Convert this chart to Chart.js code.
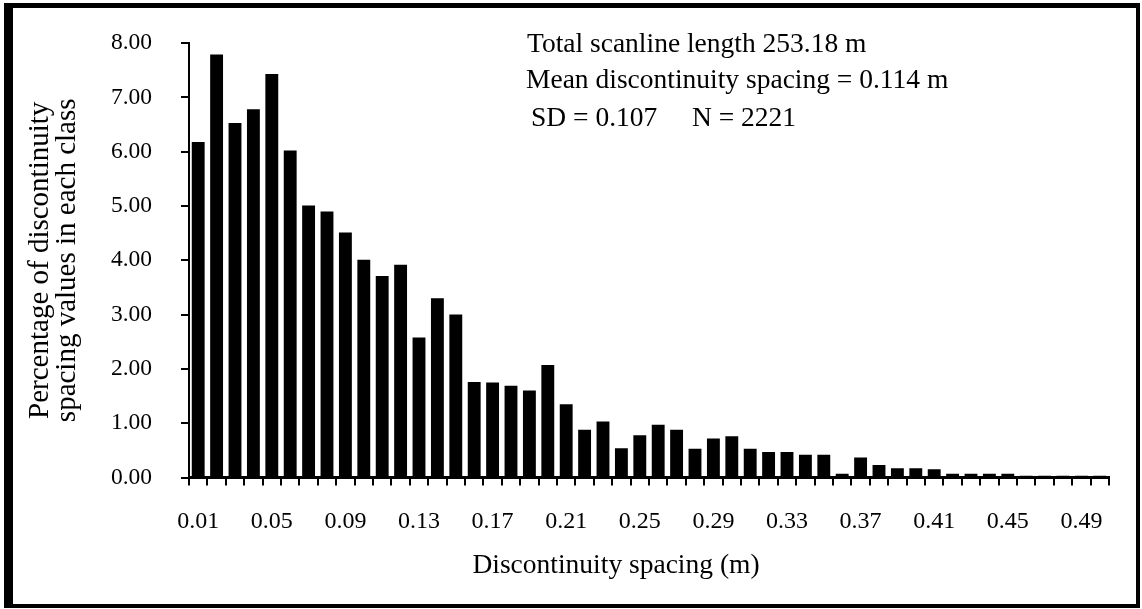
<!DOCTYPE html>
<html>
<head>
<meta charset="utf-8">
<script src="https://cdn.jsdelivr.net/npm/chart.js@4.4.1/dist/chart.umd.min.js"></script>
<style>
html, body { margin: 0; padding: 0; background: #fff; }
#wrap { position: relative; width: 1142px; height: 609px; }
#frame { position: absolute; left: 4px; top: 3px; width: 1136px; height: 605px; box-sizing: border-box;
  border-style: solid; border-color: #000; border-width: 5px 4px 4px 9px; pointer-events: none; }
</style>
</head>
<body>
<div id="wrap">
  <canvas id="c" width="1142" height="609"></canvas>
  <div id="frame"></div>
</div>
<script>
// ---- data ----
const categories = ['0.01','0.02','0.03','0.04','0.05','0.06','0.07','0.08','0.09','0.10',
                    '0.11','0.12','0.13','0.14','0.15','0.16','0.17','0.18','0.19','0.20',
                    '0.21','0.22','0.23','0.24','0.25','0.26','0.27','0.28','0.29','0.30',
                    '0.31','0.32','0.33','0.34','0.35','0.36','0.37','0.38','0.39','0.40',
                    '0.41','0.42','0.43','0.44','0.45','0.46','0.47','0.48','0.49','0.50'];
const percentages = [6.18, 7.79, 6.53, 6.78, 7.43, 6.02, 5.01, 4.90, 4.51, 4.01,
                     3.71, 3.92, 2.58, 3.30, 3.00, 1.76, 1.75, 1.69, 1.60, 2.07,
                     1.35, 0.88, 1.03, 0.54, 0.78, 0.97, 0.88, 0.53, 0.72, 0.76,
                     0.53, 0.47, 0.47, 0.42, 0.42, 0.07, 0.37, 0.23, 0.17, 0.17,
                     0.15, 0.07, 0.07, 0.07, 0.07, 0.03, 0.03, 0.03, 0.03, 0.03];
const xTickLabels = ['0.01','0.05','0.09','0.13','0.17','0.21','0.25','0.29','0.33','0.37','0.41','0.45','0.49'];
const yMin = 0, yMax = 8, yStep = 1;
const yAxisTitle = ['Percentage of discontinuity', 'spacing values in each class'];
const xAxisTitle = 'Discontinuity spacing (m)';
const infoLines = ['Total scanline length 253.18 m', 'Mean discontinuity spacing = 0.114 m'];
const statsTexts = ['SD = 0.107', 'N = 2221'];

const SERIF = '"Liberation Serif", "Times New Roman", serif';

const textPlugin = {
  id: 'texts',
  afterDraw(chart) {
    const ctx = chart.ctx;
    ctx.save();
    ctx.fillStyle = '#000';
    ctx.font = '27.5px ' + SERIF;
    ctx.textAlign = 'left';
    ctx.textBaseline = 'alphabetic';
    ctx.fillText(infoLines[0], 527, 52);
    ctx.fillText(infoLines[1], 526, 88);
    ctx.fillText(statsTexts[0], 531, 126);
    ctx.fillText(statsTexts[1], 692, 126);
    // x axis title
    ctx.textAlign = 'center';
    ctx.fillText(xAxisTitle, 616, 573);
    ctx.restore();
  }
};

new Chart(document.getElementById('c'), {
  type: 'bar',
  data: {
    labels: categories,
    datasets: [{
      data: percentages,
      backgroundColor: '#000',
      borderWidth: 0,
      barPercentage: 0.7,
      categoryPercentage: 1.0
    }]
  },
  options: {
    responsive: false,
    animation: false,
    devicePixelRatio: 1,
    layout: { padding: { top: 33, right: 33, bottom: 0, left: 0 } },
    plugins: { legend: { display: false }, tooltip: { enabled: false } },
    scales: {
      x: {
        grid: { display: true, drawOnChartArea: false, drawTicks: true, tickLength: 8, color: '#000', lineWidth: 2, offset: true },
        border: { display: true, color: '#000', width: 3 },
        ticks: {
          autoSkip: false, maxRotation: 0, minRotation: 0, padding: 22, color: '#000',
          font: { family: SERIF, size: 24 },
          callback: function (value, index) {
            const lab = categories[index];
            return xTickLabels.includes(lab) ? lab : '';
          }
        },
        title: { display: false, text: xAxisTitle },
        afterFit(scale) { scale.height = 131.5; }
      },
      y: {
        min: yMin, max: yMax,
        grid: { display: true, drawOnChartArea: false, drawTicks: true, tickLength: 8, color: '#000', lineWidth: 2 },
        border: { display: true, color: '#000', width: 2 },
        ticks: {
          stepSize: yStep, padding: 29, color: '#000',
          font: { family: SERIF, size: 23.5 },
          callback: (v) => Number(v).toFixed(2)
        },
        title: { display: true, text: yAxisTitle, color: '#000', font: { family: SERIF, size: 29, lineHeight: 0.93 }, padding: { top: 27, bottom: 0 } },
        afterFit(scale) { scale.width = 189; }
      }
    }
  },
  plugins: [textPlugin]
});
</script>
</body>
</html>
